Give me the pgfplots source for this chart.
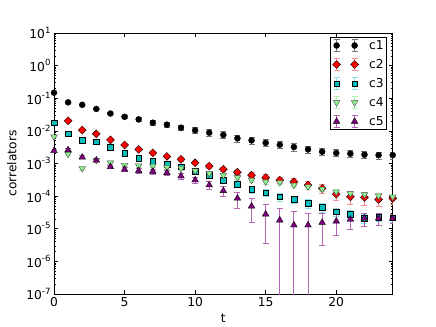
\documentclass[border=0pt]{standalone}
\usepackage{fontspec}
\setmainfont{DejaVu Sans}
\usepackage{pgfplots}
\usepackage{pgfplotstable}
\pgfplotsset{compat=1.18}

\definecolor{cthree}{RGB}{0,191,191}
\definecolor{cfour}{RGB}{144,238,144}
\definecolor{cfive}{RGB}{128,0,128}
\colorlet{eone}{black!55}
\colorlet{etwo}{red!45}
\colorlet{ethree}{cthree!45}
\colorlet{efour}{cfour!70}
\colorlet{efive}{cfive!60}

\newcommand\ex[1]{10\raisebox{0.48em}{\fontsize{8.6}{9}\selectfont #1}}

\pgfplotstableread{
t y e
0 0.148 0.003
1 0.075 0.003
2 0.063 0.003
3 0.047 0.003
4 0.034 0.003
5 0.027 0.003
6 0.0225 0.003
7 0.0178 0.0028
8 0.0155 0.0027
9 0.0125 0.0025
10 0.0104 0.0023
11 0.0088 0.002
12 0.0075 0.0018
13 0.0059 0.0014
14 0.0051 0.0012
15 0.0043 0.001
16 0.00375 0.0009
17 0.0032 0.0008
18 0.0027 0.00065
19 0.0023 0.00055
20 0.0021 0.0005
21 0.0020 0.00048
22 0.00186 0.00045
23 0.0018 0.00043
24 0.0018 0.00043
}\cone

% no visible c2 point at t = 0
\pgfplotstableread{
t y e
1 0.0204 0.0006
2 0.0106 0.0004
3 0.0081 0.0004
4 0.0053 0.0003
5 0.0037 0.00026
6 0.0027 0.00022
7 0.00213 0.0002
8 0.00165 0.00017
9 0.00134 0.00016
10 0.00105 0.00013
11 0.00083 0.00012
12 0.00067 0.0001
13 0.00054 0.00009
14 0.00044 0.00008
15 0.00037 0.00008
16 0.00031 0.00007
17 0.000275 0.00007
18 0.000218 0.00006
19 0.000173 0.00005
20 0.000115 0.00004
21 0.000095 0.00004
22 0.000091 0.00004
23 0.000079 0.00003
24 0.000085 0.00003
}\ctwo

\pgfplotstableread{
t y e
0 0.0178 0.0005
1 0.0082 0.0003
2 0.0052 0.0002
3 0.0047 0.0002
4 0.0032 0.00015
5 0.00204 0.00012
6 0.00147 0.0001
7 0.00116 0.0001
8 0.00095 0.0001
9 0.0008 0.0001
10 0.00058 0.00008
11 0.00044 0.00007
12 0.00031 0.00006
13 0.00023 0.00005
14 0.00016 0.00004
15 0.000126 0.00003
16 0.000095 0.000025
17 0.000079 0.00002
18 0.00006 0.000017
19 0.000045 0.000013
20 0.000033 0.00001
21 0.0000275 0.000008
22 0.000021 0.000006
23 0.0000225 0.000006
24 0.000022 0.000006
}\cthreetab

\pgfplotstableread{
t y e
0 0.0066 0.0004
1 0.00195 0.0002
2 0.00071 0.0001
3 0.00126 0.0001
4 0.00105 0.0001
5 0.00089 0.0001
6 0.00085 0.0001
7 0.00083 0.0001
8 0.00076 0.0001
9 0.00071 0.0001
10 0.0006 0.00008
11 0.0005 0.00007
12 0.00044 0.00006
13 0.00037 0.00005
14 0.00031 0.00004
15 0.000275 0.00004
16 0.000263 0.00004
17 0.000218 0.00003
18 0.000195 0.00003
19 0.000164 0.00003
20 0.000135 0.00003
21 0.00012 0.00002
22 0.000112 0.00002
23 0.000102 0.00002
24 0.000095 0.00002
}\cfourtab

% lower errors of c5 at t = 16..18 reach below the axis
\pgfplotstableread{
t y ep em
0 0.00245 0.0002 0.0002
1 0.0026 0.0002 0.0002
2 0.00155 0.00015 0.00015
3 0.00126 0.00012 0.00012
4 0.00079 0.0001 0.0001
5 0.00066 0.0001 0.0001
6 0.0006 0.0001 0.0001
7 0.00057 0.0001 0.0001
8 0.00052 0.0001 0.0001
9 0.00041 0.00008 0.00008
10 0.00031 0.00007 0.00007
11 0.000218 0.00006 0.00006
12 0.000146 0.00005 0.00005
13 0.000086 0.000045 0.000045
14 0.000049 0.000033 0.000033
15 0.000028 0.000028 0.0000245
16 0.0000183 0.000024 0.00001829
17 0.0000129 0.00002 0.00001289
18 0.0000129 0.000016 0.00001289
19 0.0000155 0.000014 0.0000125
20 0.000017 0.000012 0.000011
21 0.0000194 0.00001 0.00001
22 0.000021 0.000009 0.000009
23 0.000021 0.000008 0.000008
24 0.000021 0.000007 0.000007
}\cfivetab

\pgfplotsset{
  legerr/.style={legend image code/.code={
    \foreach \xx in {0bp,18bp}{
      \draw[#1, line width=1bp] (\xx,-6bp) -- (\xx,6bp)
        ([xshift=-3bp]\xx,-6bp) -- ([xshift=3bp]\xx,-6bp)
        ([xshift=-3bp]\xx,6bp) -- ([xshift=3bp]\xx,6bp);
    }
    \draw[##1] plot coordinates {(0bp,0bp) (18bp,0bp)};
    \path (-5bp,0bp) (30bp,0bp);
  }},
  ebar/.style={
    error bars/y dir=both, error bars/y explicit,
    error bars/error bar style={#1, line width=1bp},
    error bars/error mark options={rotate=90, mark size=3bp, line width=1bp, #1},
  },
}

\begin{document}
\begin{tikzpicture}
\path[use as bounding box] (-54bp,-33bp) rectangle (382bp,294bp);
\begin{axis}[
  scale only axis, width=338.7bp, height=261bp,
  ymode=log, xmin=0, xmax=24, ymin=1e-7, ymax=10,
  xtick={0,5,10,15,20},
  ytick={1e-7,1e-6,1e-5,1e-4,1e-3,1e-2,1e-1,1,10},
  yticklabels={\ex{-7},\ex{-6},\ex{-5},\ex{-4},\ex{-3},\ex{-2},\ex{-1},\ex{0},\ex{1}},
  tick align=inside,
  major tick length=4bp, minor tick length=2bp,
  every tick/.style={black, line width=0.6bp},
  axis line style={line width=0.8bp},
  tick label style={font=\fontsize{12.3}{14}\selectfont},
  /pgf/number format/assume math mode=true,
  xlabel={t}, ylabel={correlators},
  label style={font=\fontsize{12.3}{14}\selectfont},
  ylabel style={yshift=3bp},
  legend cell align=left,
  legend style={at={(axis description cs:0.983,0.985)}, anchor=north east,
    draw=black, line width=0.8bp, font=\fontsize{12.3}{14}\selectfont,
    inner xsep=1bp, inner ysep=1bp, row sep=4.5bp},
]
\addplot[only marks, mark=*, mark size=3bp,
  mark options={fill=black, draw=black, line width=0.4bp},
  ebar=eone, legerr=eone]
  table[x=t, y=y, y error=e] {\cone};
\addlegendentry{c1}
\addplot[only marks, mark=square*, mark size=2.8bp,
  mark options={fill=red, draw=black, line width=0.4bp, rotate=45},
  ebar=etwo, legerr=etwo]
  table[x=t, y=y, y error=e] {\ctwo};
\addlegendentry{c2}
\addplot[only marks, mark=square*, mark size=2.8bp,
  mark options={fill=cthree, draw=black, line width=0.4bp},
  ebar=ethree, legerr=ethree]
  table[x=t, y=y, y error=e] {\cthreetab};
\addlegendentry{c3}
\addplot[only marks, mark=triangle*, mark size=3.8bp,
  mark options={fill=cfour, draw=black!70, line width=0.4bp, rotate=180},
  ebar=efour, legerr=efour]
  table[x=t, y=y, y error=e] {\cfourtab};
\addlegendentry{c4}
\addplot[only marks, mark=triangle*, mark size=3.8bp,
  mark options={fill=cfive, draw=black, line width=0.4bp},
  ebar=efive, legerr=efive]
  table[x=t, y=y, y error plus=ep, y error minus=em] {\cfivetab};
\addlegendentry{c5}
\end{axis}
\end{tikzpicture}
\end{document}
